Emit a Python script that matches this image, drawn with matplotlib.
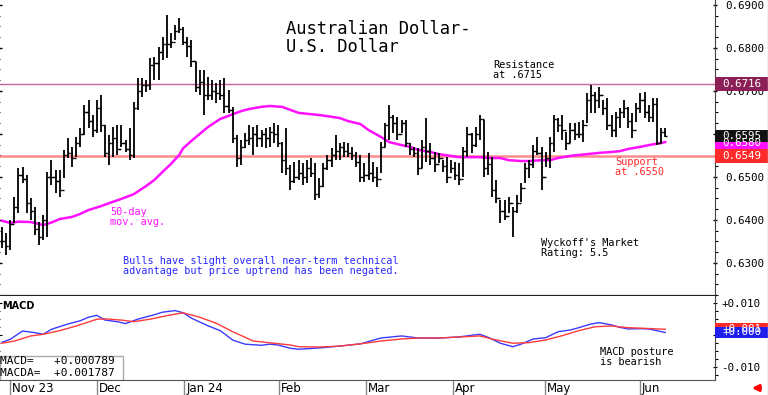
import matplotlib
matplotlib.use("Agg")
import matplotlib.pyplot as plt
import matplotlib.transforms as mtransforms
from matplotlib.patches import Rectangle
from matplotlib.lines import Line2D
from matplotlib.ticker import MultipleLocator, FuncFormatter
import numpy as np

# ---- daily AUD/USD bars (pips, 0.6384 -> 6384) ----
highs = [6384, 6370, 6400, 6453, 6521, 6523, 6505, 6451, 6430, 6395,
         6412, 6512, 6539, 6516, 6516, 6563, 6591, 6570, 6593, 6614,
         6667, 6679, 6644, 6679, 6691, 6621, 6598, 6616, 6621, 6621,
         6586, 6614, 6674, 6730, 6730, 6726, 6777, 6779, 6802, 6826,
         6877, 6835, 6853, 6870, 6849, 6826, 6819, 6767, 6749, 6749,
         6733, 6726, 6719, 6726, 6730, 6702, 6663, 6598, 6586, 6602,
         6621, 6616, 6621, 6609, 6614, 6616, 6626, 6621, 6581, 6614,
         6528, 6535, 6539, 6532, 6539, 6544, 6532, 6498, 6532, 6551,
         6567, 6598, 6579, 6581, 6579, 6570, 6558, 6551, 6532, 6556,
         6535, 6523, 6581, 6626, 6667, 6644, 6640, 6633, 6633, 6579,
         6570, 6567, 6586, 6637, 6579, 6558, 6556, 6539, 6546, 6539,
         6535, 6532, 6570, 6616, 6602, 6616, 6644, 6633, 6558, 6546,
         6493, 6446, 6446, 6453, 6430, 6458, 6486, 6532, 6539, 6574,
         6593, 6570, 6558, 6593, 6644, 6637, 6644, 6605, 6626, 6626,
         6628, 6633, 6695, 6714, 6698, 6709, 6679, 6684, 6644, 6651,
         6660, 6679, 6663, 6649, 6672, 6695, 6698, 6667, 6684, 6684,
         6614, 6614]
lows = [6335, 6319, 6330, 6393, 6416, 6486, 6416, 6400, 6365, 6342,
        6353, 6360, 6481, 6463, 6453, 6498, 6544, 6523, 6546, 6570,
        6598, 6614, 6593, 6602, 6605, 6546, 6528, 6546, 6551, 6570,
        6558, 6539, 6544, 6656, 6686, 6698, 6702, 6726, 6726, 6772,
        6777, 6800, 6819, 6835, 6807, 6779, 6756, 6698, 6691, 6644,
        6679, 6679, 6672, 6679, 6649, 6649, 6579, 6523, 6528, 6567,
        6574, 6551, 6570, 6570, 6567, 6570, 6579, 6570, 6509, 6505,
        6470, 6486, 6493, 6481, 6486, 6500, 6446, 6451, 6477, 6516,
        6523, 6539, 6539, 6546, 6546, 6539, 6523, 6488, 6488, 6493,
        6488, 6477, 6509, 6570, 6586, 6602, 6586, 6602, 6570, 6551,
        6546, 6505, 6521, 6535, 6528, 6512, 6532, 6512, 6486, 6509,
        6493, 6481, 6500, 6546, 6556, 6570, 6586, 6500, 6505, 6453,
        6439, 6393, 6400, 6416, 6360, 6416, 6442, 6486, 6498, 6521,
        6551, 6470, 6523, 6521, 6558, 6605, 6586, 6563, 6579, 6586,
        6591, 6581, 6626, 6649, 6649, 6660, 6644, 6609, 6593, 6593,
        6614, 6637, 6614, 6591, 6628, 6649, 6637, 6628, 6628, 6574,
        6579, 6593]
closes = [6350, 6340, 6390, 6430, 6505, 6495, 6440, 6420, 6380, 6360,
          6400, 6500, 6500, 6490, 6470, 6550, 6555, 6545, 6580, 6600,
          6650, 6630, 6610, 6660, 6620, 6555, 6580, 6590, 6565, 6580,
          6565, 6550, 6660, 6700, 6715, 6715, 6760, 6765, 6790, 6810,
          6810, 6815, 6840, 6845, 6815, 6805, 6770, 6710, 6720, 6690,
          6690, 6700, 6695, 6690, 6665, 6655, 6590, 6545, 6570, 6585,
          6590, 6600, 6590, 6600, 6590, 6605, 6600, 6580, 6540, 6520,
          6490, 6500, 6510, 6500, 6520, 6510, 6460, 6480, 6520, 6540,
          6550, 6560, 6570, 6560, 6555, 6550, 6535, 6500, 6505, 6510,
          6500, 6495, 6570, 6620, 6640, 6625, 6600, 6625, 6580, 6565,
          6555, 6520, 6570, 6560, 6545, 6530, 6545, 6525, 6500, 6520,
          6505, 6495, 6560, 6600, 6575, 6600, 6635, 6520, 6530, 6470,
          6450, 6420, 6410, 6440, 6420, 6440, 6475, 6520, 6530, 6560,
          6555, 6500, 6545, 6580, 6635, 6620, 6610, 6580, 6610, 6600,
          6600, 6620, 6680, 6690, 6680, 6690, 6660, 6620, 6610, 6640,
          6650, 6660, 6630, 6610, 6660, 6680, 6650, 6640, 6670, 6580,
          6605, 6595]

# 50-day moving average, read at bar positions
ma_idx = [0, 2, 4, 7, 10, 12, 14, 17, 19, 21, 24, 26, 29, 32, 35, 37, 39, 41, 43, 44,
          46, 48, 50, 53, 55, 58, 60, 63, 65, 68, 70, 72, 75, 77, 80, 82, 84, 87, 89, 92,
          94, 97, 99, 101, 104, 106, 109, 111, 114, 116, 118, 121, 123, 126, 128, 131, 133,
          135, 138, 140, 143, 145, 148, 150, 152, 155, 157, 160, 161]
ma_vals = [6398, 6393, 6396, 6395, 6388, 6394, 6402, 6407, 6414, 6423, 6432, 6439, 6449,
           6460, 6479, 6493, 6512, 6530, 6551, 6567, 6584, 6600, 6616, 6635, 6642, 6653,
           6658, 6663, 6665, 6663, 6656, 6649, 6646, 6644, 6640, 6637, 6630, 6623, 6609,
           6593, 6581, 6574, 6570, 6563, 6558, 6553, 6549, 6546, 6546, 6546, 6544, 6544,
           6539, 6537, 6537, 6539, 6539, 6544, 6549, 6551, 6554, 6556, 6558, 6560, 6565,
           6570, 6574, 6579, 6581]

# MACD (blue) and its average (red), in thousandths
macd_idx = [0, 2, 5, 8, 10, 12, 16, 19, 21, 23, 25, 28, 30, 33, 37, 39, 42, 44, 46, 50,
            53, 56, 59, 63, 65, 67, 70, 72, 77, 82, 87, 92, 97, 101, 106, 111, 116, 118,
            121, 124, 126, 129, 132, 135, 138, 140, 143, 145, 148, 150, 152, 155, 157, 159, 161]
macd_vals = [-2.3, -1.36, 1.26, 0.73, 0.22, 1.8, 3.47, 4.5, 5.6, 6.2, 4.7, 4.2, 3.6, 5.0,
             6.4, 7.2, 7.7, 7.0, 5.3, 2.9, 1.36, -1.6, -2.9, -3.25, -2.9, -3.15, -4.2, -4.5,
             -4.1, -3.5, -2.8, -0.95, -0.3, -0.95, -1.0, -0.6, 0.22, -0.73, -2.6, -3.7, -2.9,
             -1.26, -0.85, 1.04, 1.58, 2.3, 3.47, 3.9, 3.15, 2.4, 1.9, 2.0, 1.9, 1.36, 0.79]
macda_idx = [0, 3, 7, 10, 14, 18, 23, 25, 29, 32, 36, 40, 44, 48, 52, 56, 61, 66, 70, 72,
             77, 82, 87, 92, 97, 101, 106, 111, 116, 120, 124, 128, 132, 136, 140, 144, 148,
             152, 156, 161]
macda_vals = [-2.6, -1.9, -0.3, 0.22, 1.36, 2.84, 4.95, 5.1, 4.7, 4.2, 5.0, 6.1, 7.0, 5.6,
              3.7, 1.04, -1.9, -2.6, -3.15, -3.7, -3.8, -3.5, -2.8, -1.9, -1.26, -0.95,
              -0.95, -0.63, -0.3, -1.58, -2.6, -2.4, -1.58, -0.22, 1.36, 2.6, 2.84, 2.3,
              2.1, 1.79]

month_pos = [1.9, 23.1, 44.2, 67.3, 88.3, 109.5, 131.8, 154.9]
month_labels = ['Nov 23', 'Dec', 'Jan 24', 'Feb', 'Mar', 'Apr', 'May', 'Jun']

resistance = 0.6716
support = 0.6549
last_price = 0.6595
last_ma = 0.6580
macd_last = 0.000789
macda_last = 0.001787

W, H = 768, 395
MONO = 'DejaVu Sans Mono'


def fpos(x, y):
    # pixel position -> figure fraction
    return x / W, 1 - y / H


def price_fmt(v, p):
    # 0.6600 sits fully under the last-price box
    if abs(v - 0.66) < 1e-6:
        return ''
    return '%.4f' % v


def macd_fmt(v, p):
    # zero line label sits fully under the MACD box
    if abs(v) < 1e-6:
        return ''
    return '%+.3f' % v


h = np.array(highs) / 10000
l = np.array(lows) / 10000
c = np.array(closes) / 10000
o = np.r_[c[0], c[:-1]]
xb = np.arange(len(c))

fig = plt.figure(figsize=(W / 100, H / 100), dpi=100)
ax = fig.add_axes([0, 1 - 296 / H, 715 / W, 296 / H])
ax2 = fig.add_axes([0, 1 - 380 / H, 715 / W, 84 / H])

### PRICE PANEL
ax.axhline(resistance, color='#c8649c', lw=1.0, zorder=1)
ax.axhline(support, color='#ff8c8c', lw=1.8, zorder=1)
ax.vlines(xb, l, h, color='black', lw=1.3, zorder=3)
ax.hlines(c, xb, xb + 0.55, color='black', lw=1.0, zorder=3)
ax.hlines(o, xb - 0.55, xb, color='black', lw=1.0, zorder=3)
ax.plot(ma_idx, np.array(ma_vals) / 10000, color='#ff10ff', lw=1.8, zorder=2)

ax.set_xlim(-0.49, 173.1)
ax.set_ylim(0.6223, 0.69116)
ax.set_xticks([])
ax.yaxis.tick_right()
ax.yaxis.set_major_locator(MultipleLocator(0.01))
ax.yaxis.set_minor_locator(MultipleLocator(0.0025))
ax.yaxis.set_major_formatter(FuncFormatter(price_fmt))
ax.tick_params(axis='y', which='major', length=3, width=1, direction='inout', pad=6,
               labelsize=7.8, labelfontfamily=MONO, left=True, right=True)
ax.tick_params(axis='y', which='minor', length=2, width=0.8, direction='out', left=True, right=True)
for s in ['top', 'left']:
    ax.spines[s].set_visible(False)
ax.spines['bottom'].set_linewidth(1.6)
ax.spines['bottom'].set_color('#222222')
ax.spines['right'].set_color('#444444')

### MACD PANEL
ax2.plot(macd_idx, np.array(macd_vals) / 1000, color='#3a3aff', lw=1.0)
ax2.plot(macda_idx, np.array(macda_vals) / 1000, color='#ff3a3a', lw=1.0)
ax2.set_xlim(-0.49, 173.1)
ax2.set_ylim(-0.0142, 0.0123)
ax2.yaxis.tick_right()
ax2.yaxis.set_major_locator(MultipleLocator(0.01))
ax2.yaxis.set_minor_locator(MultipleLocator(0.0025))
ax2.yaxis.set_major_formatter(FuncFormatter(macd_fmt))
ax2.tick_params(axis='y', which='major', length=3, direction='inout', pad=3,
                labelsize=7.8, labelfontfamily=MONO, left=True, right=True)
ax2.tick_params(axis='y', which='minor', length=2, width=0.8, direction='out', left=True, right=True)
ax2.set_xticks(month_pos)
ax2.set_xticklabels([])
ax2.tick_params(axis='x', length=11, width=1, color='#888888', direction='out')
for s in ['top', 'left']:
    ax2.spines[s].set_visible(False)
ax2.spines['bottom'].set_color('#555555')
ax2.spines['right'].set_color('#444444')
for pos, lab in zip(month_pos, month_labels):
    ax2.text(pos + 0.5, -0.1, lab, transform=ax2.get_xaxis_transform(), ha='left',
             va='center', fontsize=8.5, clip_on=False)

ax2.text(0.003, 0.94, 'MACD', transform=ax2.transAxes, fontsize=7, fontweight='bold',
         va='top', ha='left')
ax2.add_patch(Rectangle((0, 0), 123 / 715, 24 / 84, transform=ax2.transAxes,
                        facecolor='white', edgecolor='#aaaaaa', lw=1, zorder=4))
fig.text(*fpos(0, 361.5), 'MACD=   %+.6f' % macd_last, family=MONO, fontsize=8,
         va='center', ha='left', zorder=6)
fig.text(*fpos(0, 372.5), 'MACDA=  %+.6f' % macda_last, family=MONO, fontsize=8,
         va='center', ha='left', zorder=6)


def side_box(a, y, hgt, txt, fc):
    tr = mtransforms.blended_transform_factory(a.transAxes, a.transData)
    a.add_patch(Rectangle((1.0, y - hgt / 2), 53 / 715, hgt, transform=tr, facecolor=fc,
                          edgecolor='none', clip_on=False, zorder=5))
    a.text(1.01, y, txt, transform=tr, color='white', va='center', ha='left', fontsize=7.8,
           family=MONO, zorder=6, clip_on=False)


side_box(ax, resistance, 0.0033, '%.4f' % resistance, '#8c1f55')
side_box(ax, last_ma, 0.0033, '%.4f' % last_ma, '#ff10ff')
side_box(ax, last_price, 0.0029, '%.4f' % last_price, '#111111')
side_box(ax, support, 0.0033, '%.4f' % support, '#ff2a2a')
side_box(ax2, macda_last, 0.0038, '%+.3f' % 0.001, '#ff2a2a')
side_box(ax2, macd_last, 0.0036, '%+.3f' % 0.0, '#2020ee')

### TEXT
fig.text(*fpos(286, 20), 'Australian Dollar-\nU.S. Dollar', family=MONO, fontsize=12.3,
         va='top', ha='left', linespacing=1.0)
fig.text(*fpos(493, 60), 'Resistance\nat .6715', family=MONO, fontsize=7.4,
         va='top', ha='left', linespacing=1.0)
fig.text(*fpos(615, 157), 'Support\nat .6550', family=MONO, fontsize=7.4, color='#ff2a2a',
         va='top', ha='left', linespacing=1.0)
fig.text(*fpos(110, 207), '50-day\nmov. avg.', family=MONO, fontsize=7.4, color='#ff10ff',
         va='top', ha='left', linespacing=1.0)
fig.text(*fpos(123, 256), 'Bulls have slight overall near-term technical\n'
         'advantage but price uptrend has been negated.', family=MONO, fontsize=7.3,
         color='#2a2aff', va='top', ha='left', linespacing=1.0)
fig.text(*fpos(541, 238), "Wyckoff's Market\nRating: 5.5", family=MONO, fontsize=7.4,
         va='top', ha='left', linespacing=1.0)
fig.text(*fpos(600, 347), 'MACD posture\nis bearish', family=MONO, fontsize=7.4,
         va='top', ha='left', linespacing=1.0)

# little red arrow bottom right, and the right border
fig.add_artist(Line2D([767.5 / W] * 2, [0, 1], transform=fig.transFigure, color='#bbbbbb', lw=1))
ax2.annotate('', xy=fpos(749, 388), xytext=fpos(763, 388), xycoords='figure fraction',
             textcoords='figure fraction',
             arrowprops=dict(arrowstyle='-|>', color='red', lw=2.2, mutation_scale=9))

fig.savefig('out.png', dpi=100)
